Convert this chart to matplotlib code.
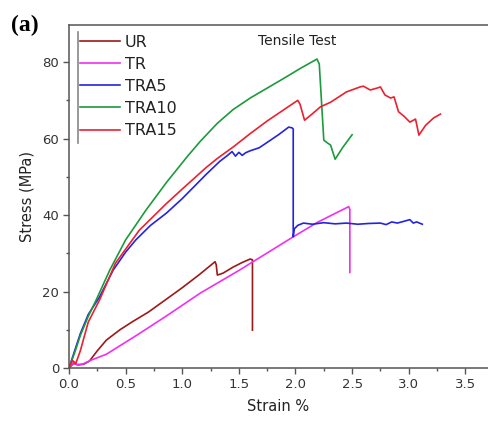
import matplotlib
matplotlib.use("Agg")
import matplotlib.pyplot as plt
from matplotlib.lines import Line2D
from matplotlib.ticker import MultipleLocator

# strain (%) / stress (MPa) curves
ur_x = [0.0, 0.04, 0.08, 0.13, 0.18, 0.25, 0.33, 0.45, 0.56, 0.70, 0.86, 1.00, 1.15, 1.29, 1.30, 1.31, 1.36, 1.45, 1.53, 1.60, 1.62, 1.62]
ur_y = [0.0, 1.2, 0.8, 1.0, 1.8, 4.5, 7.3, 10.0, 12.1, 14.6, 18.0, 21.0, 24.4, 27.8, 27.0, 24.3, 24.8, 26.4, 27.6, 28.5, 28.3, 9.9]

tr_x = [0.0, 0.04, 0.07, 0.12, 0.19, 0.33, 0.60, 0.86, 1.16, 1.50, 1.98, 2.20, 2.47, 2.48, 2.48]
tr_y = [0.0, 1.5, 0.9, 1.0, 2.0, 3.6, 8.6, 13.6, 19.6, 25.5, 34.3, 38.2, 42.2, 41.5, 25.0]

tra5_x = [0.0, 0.05, 0.10, 0.17, 0.27, 0.39, 0.50, 0.59, 0.72, 0.86, 1.00, 1.10, 1.21, 1.33, 1.40, 1.44, 1.47, 1.50, 1.53, 1.56, 1.60, 1.68, 1.75, 1.85, 1.94, 1.97, 1.98, 1.98,
          1.99, 2.02, 2.07, 2.15, 2.25, 2.35, 2.45, 2.55, 2.65, 2.75, 2.80, 2.85, 2.90, 2.95, 3.01, 3.04, 3.07, 3.12]
tra5_y = [0.0, 4.5, 9.0, 14.0, 18.6, 25.6, 30.3, 33.5, 37.3, 40.5, 44.3, 47.3, 50.6, 54.0, 55.6, 56.6, 55.4, 56.4, 55.6, 56.3, 56.8, 57.6, 59.0, 61.0, 63.0, 62.8, 62.5, 34.3,
           36.4, 37.3, 37.9, 37.6, 38.0, 37.7, 37.9, 37.6, 37.8, 37.9, 37.5, 38.2, 37.9, 38.3, 38.8, 37.9, 38.2, 37.6]

tra10_x = [0.0, 0.05, 0.10, 0.17, 0.24, 0.36, 0.50, 0.68, 0.86, 1.05, 1.16, 1.31, 1.45, 1.60, 1.75, 1.90, 2.04, 2.19, 2.21, 2.25, 2.28, 2.31, 2.35, 2.42, 2.50]
tra10_y = [0.0, 4.0, 8.5, 13.5, 17.8, 25.6, 33.5, 41.3, 48.5, 55.5, 59.3, 64.0, 67.6, 70.6, 73.2, 75.8, 78.3, 80.8, 79.5, 59.6, 58.9, 58.3, 54.6, 57.8, 61.0]

tra15_x = [0.0, 0.03, 0.06, 0.10, 0.17, 0.27, 0.41, 0.62, 0.86, 1.00, 1.21, 1.31, 1.45, 1.60, 1.75, 1.90, 2.02, 2.04, 2.08, 2.15, 2.22, 2.31, 2.45,
           2.57, 2.60, 2.66, 2.72, 2.75, 2.79, 2.84, 2.87, 2.91, 2.96, 3.01, 3.06, 3.09, 3.15, 3.22, 3.28]
tra15_y = [0.0, 2.0, 1.2, 4.5, 12.0, 17.8, 27.4, 36.0, 43.0, 46.8, 52.4, 54.8, 57.8, 61.3, 64.6, 67.6, 70.0, 69.0, 64.8, 66.5, 68.3, 69.5, 72.2,
           73.5, 73.7, 72.7, 73.2, 73.5, 71.4, 70.6, 70.9, 67.0, 65.8, 64.3, 65.1, 60.9, 63.5, 65.4, 66.4]

names = ["UR", "TR", "TRA5", "TRA10", "TRA15"]
colors = ["#9a1a1a", "#f030f0", "#2424e0", "#1c9a3c", "#ec2030"]
series = [(ur_x, ur_y), (tr_x, tr_y), (tra5_x, tra5_y), (tra10_x, tra10_y), (tra15_x, tra15_y)]

fig = plt.figure(figsize=(4.88, 4.21), dpi=100)
ax = fig.add_axes([69 / 488, 1 - 368 / 421, 1 - 69 / 488, (368 - 25) / 421])

for (xs, ys), name, c in zip(series, names, colors):
    ax.plot(xs, ys, color=c, lw=1.2, label=name)

ax.set_xlim(0, 3.70)
ax.set_ylim(0, 89.7)
ax.xaxis.set_major_locator(MultipleLocator(0.5))
ax.xaxis.set_minor_locator(MultipleLocator(0.25))
ax.yaxis.set_major_locator(MultipleLocator(20))
ax.yaxis.set_minor_locator(MultipleLocator(10))
ax.set_xticks([0, 0.5, 1.0, 1.5, 2.0, 2.5, 3.0, 3.5])
ax.set_xticklabels(["0.0", "0.5", "1.0", "1.5", "2.0", "2.5", "3.0", "3.5"])

ax.spines["right"].set_visible(False)
for s in ["top", "bottom", "left"]:
    ax.spines[s].set_color("#555555")
    ax.spines[s].set_linewidth(1.1)
ax.tick_params(which="major", direction="out", length=4, width=1, color="#555555",
               labelsize=9.5, labelcolor="#333333", pad=3)
ax.tick_params(which="minor", direction="out", length=2.5, width=1, color="#555555")

ax.set_xlabel("Strain %", fontsize=10.5, color="#222222", labelpad=6)
ax.set_ylabel("Stress (MPa)", fontsize=10.5, color="#222222", labelpad=6)

leg = ax.legend(loc="upper left", bbox_to_anchor=(80 / 488, 1 - 35 / 421),
                bbox_transform=fig.transFigure, frameon=False, fontsize=11.5,
                handlelength=2.5, handletextpad=0.3, labelspacing=0.44,
                borderpad=0, borderaxespad=0)
for t in leg.get_texts():
    t.set_color("#222222")
fig.add_artist(Line2D([78 / 488, 78 / 488], [1 - 32 / 421, 1 - 143 / 421],
                      transform=fig.transFigure, color="#888888", lw=1.2))

fig.text(297 / 488, 1 - 41 / 421, "Tensile Test", fontsize=10, ha="center", va="center", color="#222222")
fig.text(11 / 488, 1 - 25 / 421, "(a)", fontsize=17, fontweight="bold",
         family="Liberation Serif", ha="left", va="center")

fig.savefig("out.png", dpi=100)
